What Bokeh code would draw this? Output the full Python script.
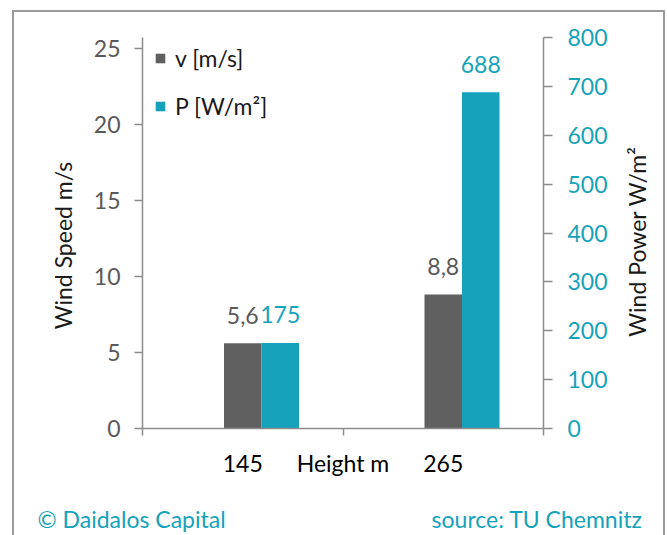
from math import pi
from bokeh.plotting import figure
from bokeh.models import (Range1d, LinearAxis, FixedTicker, Label, Legend,
                          ColumnDataSource)
from bokeh.embed import file_html
from bokeh.resources import INLINE
from bokeh.core.properties import value

# ---- data ----
heights = ["145", "265"]
speed = [5.6, 8.8]          # v [m/s]
power = [175, 688]          # P [W/m²]
speed_ticks = [0, 5, 10, 15, 20, 25]
power_ticks = [0, 100, 200, 300, 400, 500, 600, 700, 800]
x_title = "Height m"
y_title = "Wind Speed m/s"
y2_title = "Wind Power W/m²"
legend_labels = ["v [m/s]", "P [W/m²]"]
credit = "© Daidalos Capital"
source_note = "source: TU Chemnitz"

FONT = "Lato"
GRAY = "#606060"
TEAL = "#16A2BA"
AX = "#8C8C8C"
TXT = "#1a1a1a"
FS = "23px"
BORDER = "#9a9a9a"

W, H = 667, 535
fl, fr, ft, fb = 142, 543, 37, 429

p = figure(width=W, height=H, output_backend="svg", toolbar_location=None,
           x_range=Range1d(0, len(heights)), y_range=Range1d(0, 25.69),
           min_border_left=fl, min_border_right=W - fr,
           min_border_top=ft, min_border_bottom=H - fb)
p.extra_y_ranges = {"power": Range1d(0, 800)}
p.outline_line_color = None
p.xgrid.visible = False
p.ygrid.visible = False
p.background_fill_color = "white"
p.border_fill_color = None
p.styles = {
    "background": (
        f"linear-gradient({BORDER},{BORDER}) 12px 10px / 2px 600px no-repeat, "
        f"linear-gradient({BORDER},{BORDER}) 12px 10px / 653px 2px no-repeat, "
        f"linear-gradient({BORDER},{BORDER}) 663px 10px / 2px 600px no-repeat, "
        "white"
    )
}

bw = 0.187
xs_v = [i + 0.5 for i in range(len(heights))]
xs_p = [i + 0.5 + bw for i in range(len(heights))]
src_v = ColumnDataSource(dict(x=xs_v, top=speed,
                              lab=[f"{v:.1f}".replace(".", ",") for v in speed]))
src_p = ColumnDataSource(dict(x=xs_p, top=power, lab=[str(v) for v in power]))

r1 = p.vbar(x="x", top="top", width=bw, source=src_v, fill_color=GRAY, line_color=None)
r2 = p.vbar(x="x", top="top", width=bw, source=src_p, fill_color=TEAL, line_color=None,
            y_range_name="power")

p.text(x="x", y="top", text="lab", source=src_v, text_align="center",
       text_baseline="alphabetic", y_offset=-28, text_font=value(FONT),
       text_font_size=FS, text_color="#595959")
p.text(x="x", y="top", text="lab", source=src_p, text_align="center",
       text_baseline="alphabetic", y_offset=-28, text_font=value(FONT),
       text_font_size=FS, text_color=TEAL, y_range_name="power")

# x axis: category labels at centres, axis title between them, boundary ticks
xa = p.xaxis[0]
mid = len(heights) / 2
xa.ticker = FixedTicker(ticks=sorted(xs_v + [mid]),
                        minor_ticks=list(range(len(heights) + 1)))
ov = {x: h for x, h in zip(xs_v, heights)}
ov[mid] = x_title
xa.major_label_overrides = ov
xa.major_tick_out = 0
xa.major_tick_in = 0
xa.minor_tick_out = 7
xa.minor_tick_in = 0
xa.minor_tick_line_color = AX
xa.minor_tick_line_width = 1.5
xa.axis_line_color = AX
xa.axis_line_width = 1.5
xa.major_label_text_font = FONT
xa.major_label_text_font_size = FS
xa.major_label_text_color = "black"
xa.major_label_standoff = 13

# left axis
ya = p.yaxis[0]
ya.ticker = FixedTicker(ticks=speed_ticks)
ya.major_tick_out = 8
ya.major_tick_in = 0
ya.minor_tick_out = 0
ya.minor_tick_in = 0
ya.major_tick_line_color = AX
ya.major_tick_line_width = 1.5
ya.axis_line_color = AX
ya.axis_line_width = 1.5
ya.major_label_text_font = FONT
ya.major_label_text_font_size = FS
ya.major_label_text_color = "#595959"
ya.major_label_standoff = 14

# right axis
ra = LinearAxis(y_range_name="power", ticker=FixedTicker(ticks=power_ticks))
ra.major_tick_out = 9
ra.major_tick_in = 0
ra.minor_tick_out = 0
ra.minor_tick_in = 0
ra.major_tick_line_color = AX
ra.major_tick_line_width = 1.5
ra.axis_line_color = AX
ra.axis_line_width = 1.5
ra.major_label_text_font = FONT
ra.major_label_text_font_size = FS
ra.major_label_text_color = TEAL
ra.major_label_standoff = 15
p.add_layout(ra, "right")

# legend (location = bottom-left corner, px from frame bottom-left)
leg = Legend(items=[(legend_labels[0], [r1]), (legend_labels[1], [r2])],
             location=(12, 308),
             glyph_width=12, glyph_height=12, label_standoff=9, spacing=20,
             padding=0, margin=0, border_line_color=None, background_fill_alpha=0,
             label_text_font=FONT, label_text_font_size=FS, label_text_color=TXT)
p.add_layout(leg)

def side_label(text, x, y, side, color=TXT, align="left", angle=0, baseline="alphabetic"):
    p.add_layout(Label(x=x, y=y, x_units="canvas", y_units="canvas", text=text,
                       angle=angle, text_align=align, text_baseline=baseline,
                       text_font=FONT, text_font_size=FS, text_color=color), side)

# axis titles and footer (side panels, so they are not clipped to the frame)
side_label(y_title, 62, 245, "left", align="center", angle=pi / 2, baseline="middle")
side_label(y2_title, 636, 241, "right", align="center", angle=pi / 2, baseline="middle")
side_label(credit, 37, 518, "below", color=TEAL)
side_label(source_note, 642, 518, "below", color=TEAL, align="right")

open("out.html", "w").write(file_html(p, INLINE))
